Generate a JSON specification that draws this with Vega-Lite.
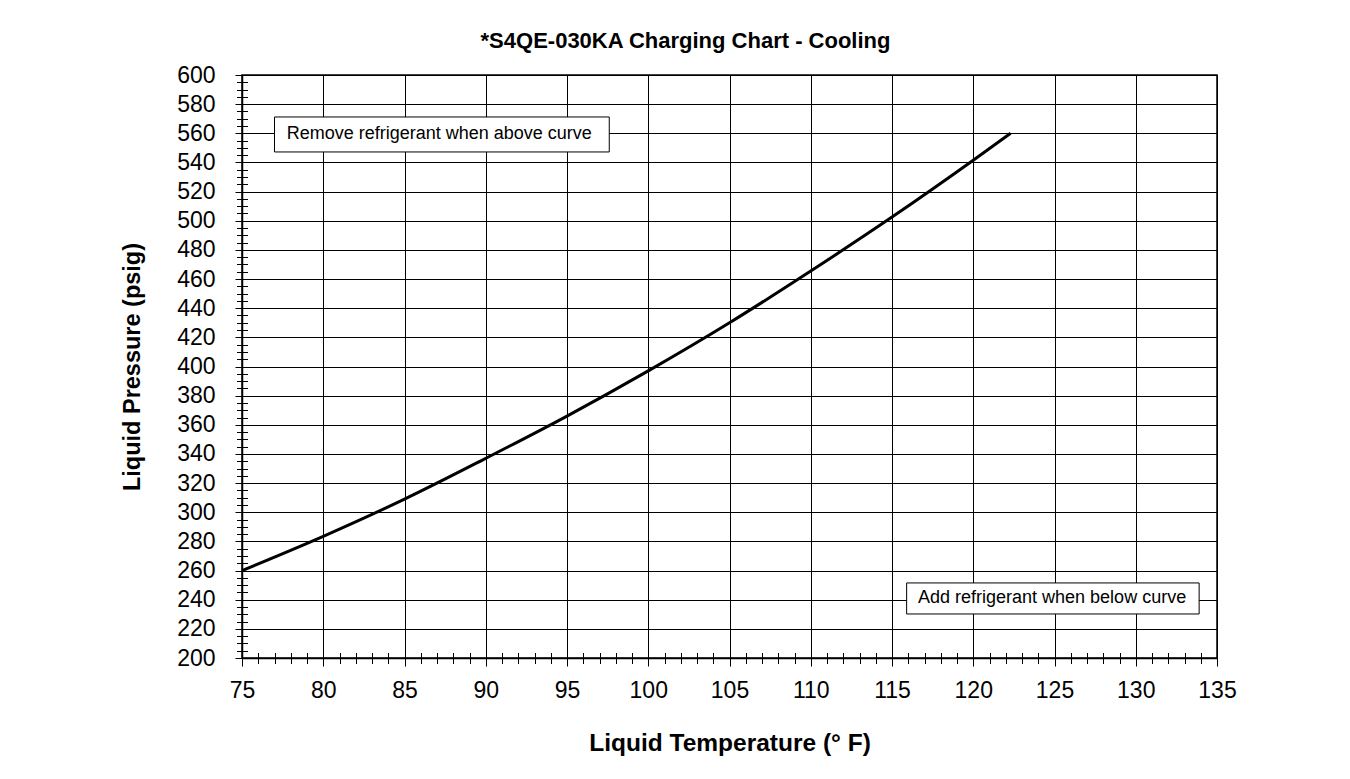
{
  "$schema": "https://vega.github.io/schema/vega-lite/v6.json",
  "width": 975,
  "height": 583,
  "autosize": {"type": "none"},
  "padding": {"left": 242, "top": 75, "right": 133, "bottom": 121},
  "background": "white",
  "config": {
    "font": "Liberation Sans",
    "view": {"stroke": "black", "strokeWidth": 1.5},
    "axis": {"labelColor": "black", "titleColor": "black", "tickColor": "black", "domainColor": "black", "gridColor": "black", "gridOpacity": 1}
  },
  "title": {
    "text": "*S4QE-030KA Charging Chart - Cooling",
    "fontSize": 22,
    "fontWeight": "bold",
    "font": "Liberation Sans",
    "color": "black",
    "anchor": "middle",
    "frame": "group",
    "dx": -44,
    "dy": 20,
    "baseline": "alphabetic",
    "offset": 14
  },
  "datasets": {
    "curve": [
      {"temp": 75, "pressure": 260},
      {"temp": 80, "pressure": 283.5},
      {"temp": 85, "pressure": 309},
      {"temp": 90, "pressure": 337},
      {"temp": 95, "pressure": 366},
      {"temp": 100, "pressure": 397},
      {"temp": 105, "pressure": 430},
      {"temp": 110, "pressure": 465.5},
      {"temp": 115, "pressure": 502.5},
      {"temp": 120, "pressure": 541.5},
      {"temp": 122.3, "pressure": 560}
    ],
    "notes": [
      {"label": "Remove refrigerant when above curve", "x1": 77.0, "x2": 97.6, "xt": 77.75, "y1": 547.2, "y2": 571.2, "yt": 559.2},
      {"label": "Add refrigerant when below curve", "x1": 115.9, "x2": 133.9, "xt": 116.6, "y1": 230.2, "y2": 251.5, "yt": 240.85}
    ]
  },
  "layer": [
    {
      "data": {"name": "curve"},
      "mark": {"type": "line", "color": "black", "strokeWidth": 3, "interpolate": "monotone"},
      "encoding": {
        "x": {
          "field": "temp", "type": "quantitative",
          "scale": {"domain": [75, 135], "nice": false, "zero": false},
          "axis": {
            "orient": "bottom",
            "values": [75, 80, 85, 90, 95, 100, 105, 110, 115, 120, 125, 130, 135],
            "grid": true, "gridWidth": 1,
            "ticks": false,
            "domain": true, "domainWidth": 1.5,
            "labelFontSize": 23, "labelPadding": 21, "labelFlush": false,
            "title": "Liquid Temperature (° F)",
            "titleFontSize": 24.5, "titleFontWeight": "bold", "titlePadding": 29
          }
        },
        "y": {
          "field": "pressure", "type": "quantitative",
          "scale": {"domain": [200, 600], "nice": false, "zero": false},
          "axis": {
            "orient": "left",
            "values": [200, 220, 240, 260, 280, 300, 320, 340, 360, 380, 400, 420, 440, 460, 480, 500, 520, 540, 560, 580, 600],
            "grid": true, "gridWidth": 1,
            "ticks": false,
            "domain": true, "domainWidth": 1.5,
            "labelFontSize": 23, "labelPadding": 27, "labelFlush": false,
            "title": "Liquid Pressure (psig)",
            "titleFontSize": 23.5, "titleFontWeight": "bold", "titlePadding": 32
          }
        }
      }
    },
    {
      "data": {"name": "notes"},
      "mark": {"type": "rect", "fill": "white", "stroke": "black", "strokeWidth": 1},
      "encoding": {
        "x": {
          "field": "x1", "type": "quantitative",
          "axis": {
            "orient": "bottom",
            "values": [75, 80, 85, 90, 95, 100, 105, 110, 115, 120, 125, 130, 135],
            "offset": -8, "tickSize": 16, "tickWidth": 1,
            "domain": false, "labels": false, "grid": false, "title": null
          }
        },
        "x2": {"field": "x2"},
        "y": {
          "field": "y1", "type": "quantitative",
          "axis": {
            "orient": "left",
            "values": [200, 220, 240, 260, 280, 300, 320, 340, 360, 380, 400, 420, 440, 460, 480, 500, 520, 540, 560, 580, 600],
            "offset": -7, "tickSize": 14, "tickWidth": 1,
            "domain": false, "labels": false, "grid": false, "title": null
          }
        },
        "y2": {"field": "y2"}
      }
    },
    {
      "data": {"name": "notes"},
      "mark": {"type": "text", "align": "left", "baseline": "middle", "fontSize": 18, "font": "Liberation Sans", "color": "black"},
      "encoding": {
        "x": {
          "field": "xt", "type": "quantitative",
          "axis": {
            "orient": "bottom",
            "values": [76, 77, 78, 79, 81, 82, 83, 84, 86, 87, 88, 89, 91, 92, 93, 94, 96, 97, 98, 99, 101, 102, 103, 104, 106, 107, 108, 109, 111, 112, 113, 114, 116, 117, 118, 119, 121, 122, 123, 124, 126, 127, 128, 129, 131, 132, 133, 134],
            "offset": -5.5, "tickSize": 11, "tickWidth": 1,
            "domain": false, "labels": false, "grid": false, "title": null
          }
        },
        "y": {
          "field": "yt", "type": "quantitative",
          "axis": {
            "orient": "left",
            "values": [205, 210, 215, 225, 230, 235, 245, 250, 255, 265, 270, 275, 285, 290, 295, 305, 310, 315, 325, 330, 335, 345, 350, 355, 365, 370, 375, 385, 390, 395, 405, 410, 415, 425, 430, 435, 445, 450, 455, 465, 470, 475, 485, 490, 495, 505, 510, 515, 525, 530, 535, 545, 550, 555, 565, 570, 575, 585, 590, 595],
            "offset": -5.5, "tickSize": 11, "tickWidth": 1,
            "domain": false, "labels": false, "grid": false, "title": null
          }
        },
        "text": {"field": "label"}
      }
    }
  ],
  "resolve": {"axis": {"x": "independent", "y": "independent"}}
}
